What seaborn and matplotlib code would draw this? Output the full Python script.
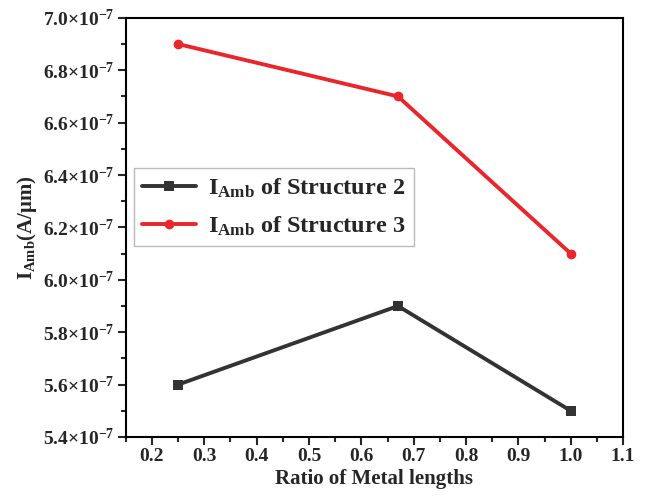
import matplotlib
matplotlib.use("Agg")
import matplotlib.pyplot as plt
import seaborn as sns
import pandas as pd
from matplotlib.ticker import MultipleLocator, FuncFormatter

ratios = [0.25, 0.67, 1.0]
struct2 = [5.6e-7, 5.9e-7, 5.5e-7]
struct3 = [6.9e-7, 6.7e-7, 6.1e-7]
labels = [r"I$_{\mathbf{Amb}}$ of Structure 2", r"I$_{\mathbf{Amb}}$ of Structure 3"]
x_ticks = [0.2, 0.3, 0.4, 0.5, 0.6, 0.7, 0.8, 0.9, 1.0, 1.1]
y_ticks = [5.4e-7, 5.6e-7, 5.8e-7, 6.0e-7, 6.2e-7, 6.4e-7, 6.6e-7, 6.8e-7, 7.0e-7]

sns.set_theme(style="ticks")
plt.rcParams["font.family"] = ["Liberation Serif", "DejaVu Serif"]
plt.rcParams["font.weight"] = "bold"
plt.rcParams["axes.labelweight"] = "bold"
plt.rcParams["mathtext.fontset"] = "custom"
plt.rcParams["mathtext.rm"] = "Liberation Serif:bold"
plt.rcParams["mathtext.bf"] = "Liberation Serif:bold"
plt.rcParams["mathtext.it"] = "Liberation Serif:bold:italic"
plt.rcParams["mathtext.default"] = "bf"

df = pd.DataFrame({
    "ratio": ratios * 2,
    "value": struct2 + struct3,
    "series": [labels[0]] * len(ratios) + [labels[1]] * len(ratios),
})

fig = plt.figure(figsize=(6.45, 4.96), dpi=100)
ax = fig.add_axes([0.195, 0.119, 0.771, 0.845])

sns.lineplot(data=df, x="ratio", y="value", hue="series", style="series",
             palette=["#333333", "#e8262b"], markers=["s", "o"], dashes=False,
             markersize=7, linewidth=2.8, markeredgewidth=0, ax=ax)

ax.set_xlim(0.15, 1.1)
ax.set_ylim(5.4e-7, 7.0e-7)
ax.set_xticks(x_ticks)
ax.set_yticks(y_ticks)
ax.xaxis.set_minor_locator(MultipleLocator(0.05))
ax.yaxis.set_minor_locator(MultipleLocator(0.1e-7))
ax.xaxis.set_major_formatter(FuncFormatter(lambda v, p: f"{v:.1f}"))
ax.yaxis.set_major_formatter(FuncFormatter(
    lambda v, p: "%.1f×10$^{\\mathbf{−7}}$" % (v * 1e7)))
ax.tick_params(axis="both", which="major", direction="out", length=6, width=1.5,
               labelsize=14, top=False, right=False, pad=2)
ax.tick_params(axis="both", which="minor", direction="out", length=3.5, width=1.5,
               top=False, right=False)
plt.setp(ax.get_xticklabels() + ax.get_yticklabels(), fontweight="bold")
for s in ax.spines.values():
    s.set_linewidth(1.5)
    s.set_color("black")

ax.set_xlabel("Ratio of Metal lengths", fontsize=15, fontweight="bold", labelpad=3)
ax.set_ylabel(r"I$_{\mathbf{Amb}}$(A/μm)", fontsize=15, fontweight="bold", labelpad=3)

leg = ax.legend(loc="upper left", bbox_to_anchor=(0.016, 0.642), fontsize=17.5,
                frameon=True, fancybox=False, edgecolor="#aaaaaa",
                handlelength=2.2, borderpad=0.35, labelspacing=0.6, handletextpad=0.5,
                borderaxespad=0)
leg.get_frame().set_linewidth(1.0)
for t in leg.get_texts():
    t.set_fontweight("bold")

fig.savefig("out.png", dpi=100)
